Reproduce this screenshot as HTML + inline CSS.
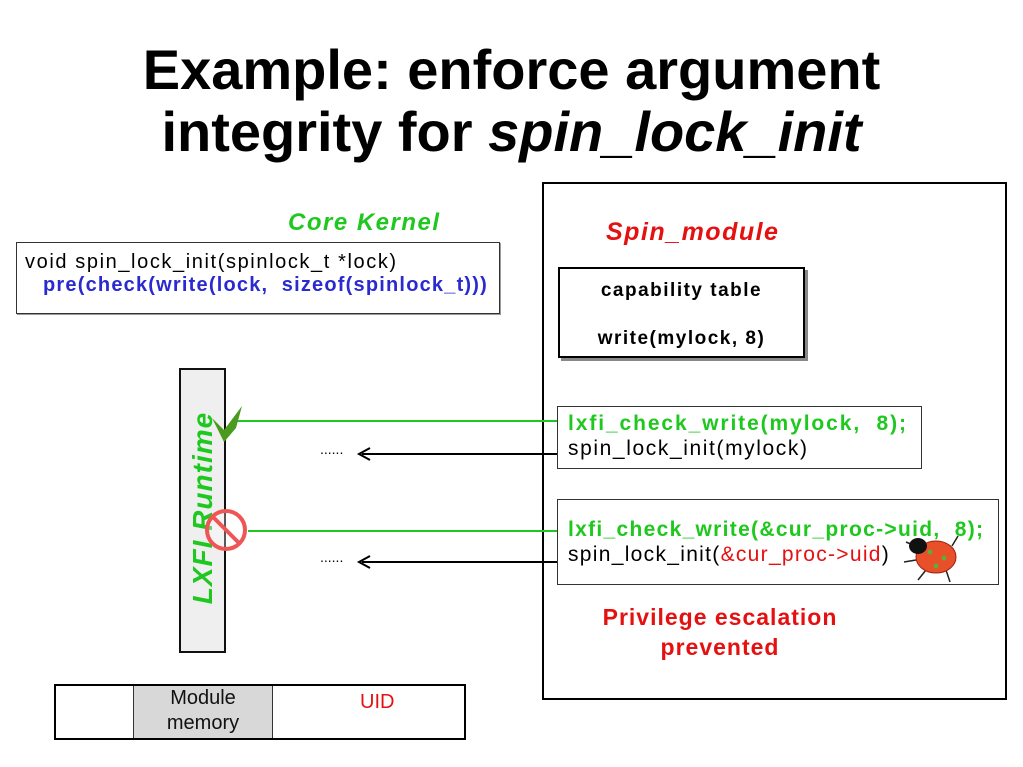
<!DOCTYPE html>
<html><head><meta charset="utf-8"><style>
body{margin:0;width:1023px;height:767px;background:#fff;position:relative;overflow:hidden;font-family:"Liberation Sans",sans-serif}
.a{position:absolute;white-space:nowrap}
.t{font-weight:bold;font-size:56px;width:1023px;text-align:center;left:0;line-height:62px}
.box{position:absolute;border:1px solid #333;box-sizing:border-box;background:#fff}
.code{font-size:19px;line-height:23px}
</style></head><body>
<div class="a t" style="top:39px">Example: enforce argument</div>
<div class="a t" style="top:101px">integrity for <i>spin_lock_init</i></div>

<div class="box" style="left:542px;top:182px;width:465px;height:518px;border:2px solid #000"></div>

<div class="a" style="left:288px;top:209px;font-size:24px;font-weight:bold;font-style:italic;color:#1ec81e;letter-spacing:1.5px">Core Kernel</div>
<div class="a" style="left:606px;top:218px;font-size:25px;font-weight:bold;font-style:italic;color:#e51010;letter-spacing:1.5px">Spin_module</div>

<div class="box code" style="left:16px;top:242px;width:484px;height:72px;padding:8px 0 0 8px;box-shadow:1px 1px 0 #999;font-size:20px;letter-spacing:1.6px">void spin_lock_init(spinlock_t *lock)<br><span style="color:#2a2ad0;font-weight:bold;padding-left:18px;letter-spacing:1.2px">pre(check(write(lock,&nbsp; sizeof(spinlock_t)))</span></div>

<div class="box" style="left:558px;top:267px;width:247px;height:91px;border:2px solid #000;box-shadow:3px 3px 0 #888;font-size:19px;font-weight:bold;text-align:center;line-height:23px;padding-top:10px;letter-spacing:1.5px">capability table<br><div style="margin-top:25px">write(mylock, 8)</div></div>

<div class="box" style="left:179px;top:368px;width:47px;height:285px;border:2px solid #111;background:#efefef"></div>
<div class="a" style="left:203px;top:508px;transform:translate(-50%,-50%) rotate(-90deg);font-size:28px;font-weight:bold;font-style:italic;color:#1ec81e;letter-spacing:1px">LXFI Runtime</div>

<svg class="a" style="left:0;top:0" width="1023" height="767">
<line x1="232" y1="421" x2="558" y2="421" stroke="#1ec81e" stroke-width="2"/>
<line x1="248" y1="531" x2="558" y2="531" stroke="#1ec81e" stroke-width="2"/>
<line x1="558" y1="454" x2="362" y2="454" stroke="#000" stroke-width="2"/>
<polyline points="370,448 359,454 370,460" fill="none" stroke="#000" stroke-width="2"/>
<line x1="558" y1="562" x2="362" y2="562" stroke="#000" stroke-width="2"/>
<polyline points="370,556 359,562 370,568" fill="none" stroke="#000" stroke-width="2"/>
<path d="M212,418 L224,430 L242,406 L236,428 L224,442 Z" fill="#4a9a20"/>
<circle cx="226" cy="530" r="19" fill="#fff" fill-opacity="0.3" stroke="#e55" stroke-width="4"/>
<line x1="213" y1="517" x2="239" y2="543" stroke="#e55" stroke-width="4"/>
<g stroke="#222" stroke-width="1.5">
<line x1="920" y1="548" x2="906" y2="542"/><line x1="926" y1="570" x2="918" y2="580"/><line x1="946" y1="570" x2="950" y2="582"/><line x1="952" y1="546" x2="958" y2="536"/><line x1="916" y1="560" x2="904" y2="562"/>
</g>
<ellipse cx="936" cy="557" rx="20" ry="16" fill="#e8502a" stroke="#a02010"/>
<ellipse cx="918" cy="546" rx="9" ry="8" fill="#111"/>
<circle cx="930" cy="552" r="2.5" fill="#6a3"/><circle cx="944" cy="558" r="2.5" fill="#6a3"/><circle cx="936" cy="566" r="2.5" fill="#6a3"/>
</svg>
<div class="a" style="left:320px;top:441px;font-size:14px">......</div>
<div class="a" style="left:320px;top:549px;font-size:14px">......</div>

<div class="box code" style="left:557px;top:406px;width:365px;height:63px;padding:4px 0 0 10px;font-size:21px;line-height:25px;letter-spacing:1.6px;background:transparent"><b style="color:#1ec81e;letter-spacing:1.9px">lxfi_check_write(mylock,&nbsp; 8);</b><br>spin_lock_init(mylock)</div>
<div class="box code" style="left:557px;top:499px;width:442px;height:86px;padding:17px 0 0 10px;font-size:21px;line-height:25px;letter-spacing:1.3px;background:transparent"><b style="color:#1ec81e;letter-spacing:1.3px">lxfi_check_write(&amp;cur_proc-&gt;uid,&nbsp; 8);</b><br>spin_lock_init(<span style="color:#e51010">&amp;cur_proc-&gt;uid</span>)</div>

<div class="a" style="left:560px;top:602px;width:320px;text-align:center;font-size:23px;font-weight:bold;color:#e51010;line-height:30px;letter-spacing:1px">Privilege escalation<br>prevented</div>

<div class="box" style="left:54px;top:684px;width:412px;height:56px;border:2px solid #000"></div>
<div class="a" style="left:133px;top:686px;width:138px;height:52px;background:#d8d8d8;border-left:1px solid #333;border-right:1px solid #333;text-align:center;font-size:20px;line-height:25px;color:#111">Module<br>memory</div>
<div class="a" style="left:360px;top:691px;font-size:20px;color:#e51010">UID</div>
</body></html>
